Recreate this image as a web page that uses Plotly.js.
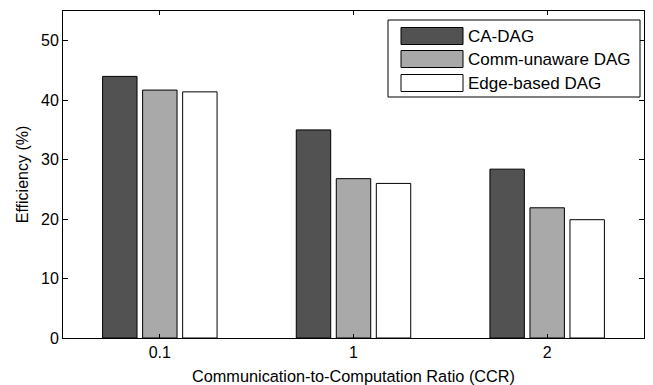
<!DOCTYPE html>
<html>
<head>
<meta charset="utf-8">
<script src="https://cdn.plot.ly/plotly-3.0.1.min.js"></script>
<style>html,body{margin:0;padding:0;background:#fff;}#chart{width:653px;height:385px;}</style>
</head>
<body>
<div id="chart"></div>
<script>
const categories = ["0.1", "1", "2"];
const seriesNames = ["CA-DAG", "Comm-unaware DAG", "Edge-based DAG"];
const caDag = [44.0, 35.0, 28.4];
const commUnaware = [41.7, 26.8, 21.9];
const edgeBased = [41.4, 26.0, 19.9];
const yTicks = [0, 10, 20, 30, 40, 50];
const colors = ["#525252", "#a9a9a9", "#ffffff"];

const FONT = "Liberation Sans, Arial, sans-serif";
const allSeries = [caDag, commUnaware, edgeBased];

const traces = allSeries.map((vals, i) => ({
  type: "bar",
  name: seriesNames[i],
  x: categories,
  y: vals,
  marker: {color: colors[i], line: {color: "#000", width: 1}},
  showlegend: false,
  hoverinfo: "x+y+name"
}));

// custom legend (wide swatches like the original)
const W = 581, H = 327, L = 63, T = 11;
const px = v => (v - L) / W;
const py = v => (T + H - v) / H;
const shapes = [{
  type: "rect", xref: "paper", yref: "paper",
  x0: px(388), x1: px(640), y0: py(97), y1: py(20),
  line: {color: "#000", width: 1}, fillcolor: "#fff"
}];
const annotations = [];
const rowY = [36, 59, 83];
seriesNames.forEach((n, i) => {
  shapes.push({
    type: "rect", xref: "paper", yref: "paper",
    x0: px(401), x1: px(463), y0: py(rowY[i] + 8.5), y1: py(rowY[i] - 8.5),
    line: {color: "#000", width: 1}, fillcolor: colors[i]
  });
  annotations.push({
    xref: "paper", yref: "paper", x: px(466), y: py(rowY[i]),
    xanchor: "left", yanchor: "middle", showarrow: false,
    text: n, font: {family: FONT, size: 17, color: "#000"}
  });
});

const layout = {
  width: 653, height: 385,
  margin: {l: L, r: 653 - L - W, t: T, b: 385 - T - H},
  paper_bgcolor: "#fff", plot_bgcolor: "#fff",
  barmode: "group", bargap: 0.38, bargroupgap: 0.14,
  font: {family: FONT, size: 16, color: "#000"},
  xaxis: {
    type: "category", range: [-0.5, 2.5],
    showline: true, linecolor: "#000", linewidth: 1, mirror: "ticks",
    ticks: "inside", ticklen: 4, tickcolor: "#000",
    showgrid: false, zeroline: false,
    tickfont: {family: FONT, size: 16, color: "#000"},
    title: {text: "Communication-to-Computation Ratio (CCR)", font: {family: FONT, size: 16.3, color: "#000"}, standoff: 10}
  },
  yaxis: {
    range: [0, 55], tickvals: yTicks, ticktext: yTicks.map(String),
    showline: true, linecolor: "#000", linewidth: 1, mirror: "ticks",
    ticks: "inside", ticklen: 5, tickcolor: "#000",
    showgrid: false, zeroline: false,
    tickfont: {family: FONT, size: 16, color: "#000"},
    title: {text: "Efficiency (%)", font: {family: FONT, size: 16, color: "#000"}, standoff: 8}
  },
  shapes: shapes,
  annotations: annotations
};

Plotly.newPlot("chart", traces, layout, {displayModeBar: false, staticPlot: true});
</script>
</body>
</html>
